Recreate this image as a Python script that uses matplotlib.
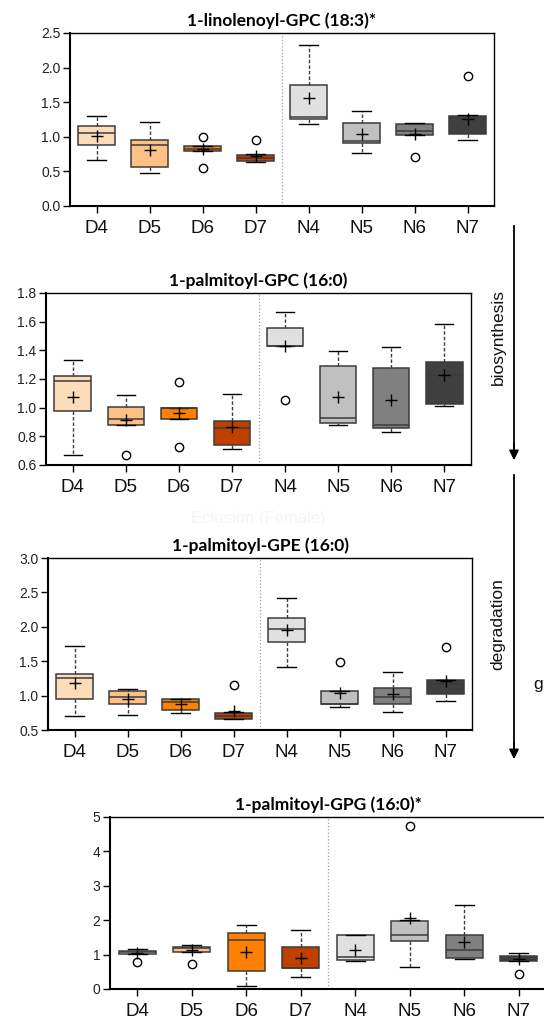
import matplotlib
matplotlib.use('Agg')
import matplotlib.pyplot as plt

# ==========================================
# DATA
# ==========================================
groups = ['D4', 'D5', 'D6', 'D7', 'N4', 'N5', 'N6', 'N7']
box_colors = ['#FDDCBA', '#FDC086', '#FF8000', '#C04000',
              '#E0E0E0', '#C0C0C0', '#808080', '#404040']

# Panel 1: 1-linolenoyl-GPC (18:3)*
p1_title = '1-linolenoyl-GPC (18:3)*'
p1_lo = [0.66, 0.47, 0.80, 0.63, 1.18, 0.76, 1.02, 0.95]
p1_q1 = [0.885, 0.565, 0.80, 0.655, 1.255, 0.905, 1.02, 1.045]
p1_med = [1.055, 0.875, 0.83, 0.70, 1.29, 0.945, 1.08, 1.06]
p1_q3 = [1.16, 0.955, 0.87, 0.74, 1.745, 1.195, 1.19, 1.305]
p1_hi = [1.295, 1.21, 0.87, 0.75, 2.325, 1.375, 1.20, 1.31]
p1_mean = [1.01, 0.81, 0.82, 0.72, 1.555, 1.035, 1.045, 1.255]
p1_out = [[], [], [1.0, 0.55], [0.95], [], [], [0.715], [1.88]]

# Panel 2: 1-palmitoyl-GPC (16:0)
p2_title = '1-palmitoyl-GPC (16:0)'
p2_lo = [0.667, 0.88, 0.92, 0.709, 1.43, 0.877, 0.83, 1.014]
p2_q1 = [0.977, 0.879, 0.921, 0.742, 1.43, 0.891, 0.856, 1.023]
p2_med = [1.184, 0.921, 0.995, 0.858, 1.43, 0.926, 0.877, 1.226]
p2_q3 = [1.219, 1.005, 0.995, 0.905, 1.558, 1.293, 1.274, 1.321]
p2_hi = [1.333, 1.091, 0.995, 1.093, 1.670, 1.398, 1.421, 1.586]
p2_mean = [1.074, 0.916, 0.96, 0.862, 1.43, 1.077, 1.051, 1.228]
p2_out = [[], [0.667], [1.177, 0.726], [], [1.051], [], [], []]

# Panel 3: 1-palmitoyl-GPE (16:0)
p3_title = '1-palmitoyl-GPE (16:0)'
p3_lo = [0.703, 0.718, 0.747, 0.655, 1.414, 0.834, 0.761, 0.921]
p3_q1 = [0.955, 0.877, 0.785, 0.655, 1.777, 0.882, 0.882, 1.027]
p3_med = [1.254, 0.984, 0.90, 0.703, 1.965, 0.882, 0.979, 1.162]
p3_q3 = [1.317, 1.061, 0.945, 0.752, 2.13, 1.071, 1.114, 1.22]
p3_hi = [1.723, 1.09, 0.95, 0.76, 2.42, 1.071, 1.341, 1.23]
p3_mean = [1.187, 0.945, 0.877, 0.776, 1.95, 1.032, 1.017, 1.21]
p3_out = [[], [], [], [1.153], [], [1.491], [], [1.704]]

# Panel 4: 1-palmitoyl-GPG (16:0)*
p4_title = '1-palmitoyl-GPG (16:0)*'
p4_lo = [1.02, 1.07, 0.087, 0.34, 0.80, 0.63, 0.86, 0.80]
p4_q1 = [1.03, 1.07, 0.514, 0.61, 0.84, 1.395, 0.90, 0.80]
p4_med = [1.07, 1.18, 1.41, 0.61, 0.93, 1.56, 1.14, 0.87]
p4_q3 = [1.10, 1.22, 1.62, 1.21, 1.56, 1.98, 1.56, 0.95]
p4_hi = [1.17, 1.28, 1.85, 1.71, 1.56, 2.0, 2.43, 1.04]
p4_mean = [1.06, 1.14, 1.085, 0.90, 1.146, 2.05, 1.38, 0.88]
p4_out = [[0.795], [0.736], [], [], [], [4.74], [], [0.43]]

p1_yticks = [0.0, 0.5, 1.0, 1.5, 2.0, 2.5]
p2_yticks = [0.6, 0.8, 1.0, 1.2, 1.4, 1.6, 1.8]
p3_yticks = [0.5, 1.0, 1.5, 2.0, 2.5, 3.0]
p4_yticks = [0, 1, 2, 3, 4, 5]

# ==========================================
# LAYOUT
# ==========================================
W, H = 544, 1026
fig = plt.figure(figsize=(W / 100, H / 100), dpi=100)
plt.rcParams['font.family'] = ['Liberation Sans', 'DejaVu Sans']


def px_axes(left, top, right, bottom):
    return fig.add_axes([left / W, 1 - bottom / H, (right - left) / W, (bottom - top) / H])


def draw_panel(ax, title, lo, q1, med, q3, hi, mean, out, yticks, fmt):
    stats = []
    for i in range(len(groups)):
        stats.append(dict(whislo=lo[i], q1=q1[i], med=med[i], q3=q3[i],
                          whishi=hi[i], mean=mean[i], fliers=out[i]))
    pos = list(range(1, len(groups) + 1))
    bp = ax.bxp(stats, positions=pos, widths=0.68, patch_artist=True,
                showmeans=True, showfliers=True,
                boxprops=dict(edgecolor='#3C3C3C', linewidth=1.1),
                medianprops=dict(color='#3C3C3C', linewidth=1.1),
                whiskerprops=dict(color='#3C3C3C', linewidth=1.0, linestyle=(0, (2.5, 1.5))),
                capprops=dict(color='black', linewidth=1.0),
                capwidths=0.34,
                meanprops=dict(marker='+', markeredgecolor='black', markersize=8,
                               markeredgewidth=1.0),
                flierprops=dict(marker='o', markerfacecolor='white',
                                markeredgecolor='black', markersize=6,
                                markeredgewidth=1.0))
    for patch, c in zip(bp['boxes'], box_colors):
        patch.set_facecolor(c)
    ax.axvline(4.5, color='#A0A0A0', linestyle=':', linewidth=0.9, zorder=0)
    ax.set_xlim(0.5, len(groups) + 0.5)
    ax.set_ylim(yticks[0], yticks[-1])
    ax.set_yticks(yticks)
    ax.set_yticklabels([fmt.format(v) for v in yticks], fontsize=10, color='#222222')
    ax.set_xticks(pos)
    ax.set_xticklabels(groups, fontsize=13.5, color='#111111')
    ax.tick_params(axis='x', length=5, width=1.0, pad=5, direction='out')
    ax.tick_params(axis='y', length=5, width=1.0, pad=2, direction='out')
    for side in ['left', 'bottom']:
        ax.spines[side].set_linewidth(1.5)
    for side in ['top', 'right']:
        ax.spines[side].set_linewidth(1.0)
    ax.set_title(title, fontsize=12.5, fontweight='bold', family='Lato', pad=5)


ax1 = px_axes(70, 33, 494, 206)
draw_panel(ax1, p1_title, p1_lo, p1_q1, p1_med, p1_q3, p1_hi, p1_mean, p1_out,
           p1_yticks, '{:.1f}')
ax2 = px_axes(46, 293, 471, 465)
draw_panel(ax2, p2_title, p2_lo, p2_q1, p2_med, p2_q3, p2_hi, p2_mean, p2_out,
           p2_yticks, '{:.1f}')
ax3 = px_axes(48, 558, 472, 730)
draw_panel(ax3, p3_title, p3_lo, p3_q1, p3_med, p3_q3, p3_hi, p3_mean, p3_out,
           p3_yticks, '{:.1f}')
ax4 = px_axes(110, 817, 546, 989)
draw_panel(ax4, p4_title, p4_lo, p4_q1, p4_med, p4_q3, p4_hi, p4_mean, p4_out,
           p4_yticks, '{:.0f}')

# faint leftover label between panels 2 and 3
fig.text(258 / W, 1 - 518 / H, 'Eclosion (Female)', ha='center', va='center',
         fontsize=12, color='#F5F5F5')

# pathway arrows on the right
arrow_x = 514 / W
fig.add_artist(plt.Line2D([arrow_x, arrow_x], [1 - 226 / H, 1 - 450 / H], color='black', lw=1.3))
fig.patches.append(matplotlib.patches.FancyArrowPatch(
    (arrow_x, 1 - 440 / H), (arrow_x, 1 - 463 / H), transform=fig.transFigure,
    arrowstyle='-|>', mutation_scale=14, color='black', lw=1.3))
fig.add_artist(plt.Line2D([arrow_x, arrow_x], [1 - 475 / H, 1 - 750 / H], color='black', lw=1.3))
fig.patches.append(matplotlib.patches.FancyArrowPatch(
    (arrow_x, 1 - 740 / H), (arrow_x, 1 - 762 / H), transform=fig.transFigure,
    arrowstyle='-|>', mutation_scale=14, color='black', lw=1.3))
fig.text(498 / W, 1 - 337 / H, 'biosynthesis', rotation=90, ha='center', va='center',
         fontsize=12.5, color='#111111')
fig.text(498 / W, 1 - 624 / H, 'degradation', rotation=90, ha='center', va='center',
         fontsize=12.5, color='#111111')
fig.text(538 / W, 1 - 685 / H, 'g', ha='center', va='center', fontsize=12.5, color='#111111')

fig.savefig('out.png', dpi=100)
